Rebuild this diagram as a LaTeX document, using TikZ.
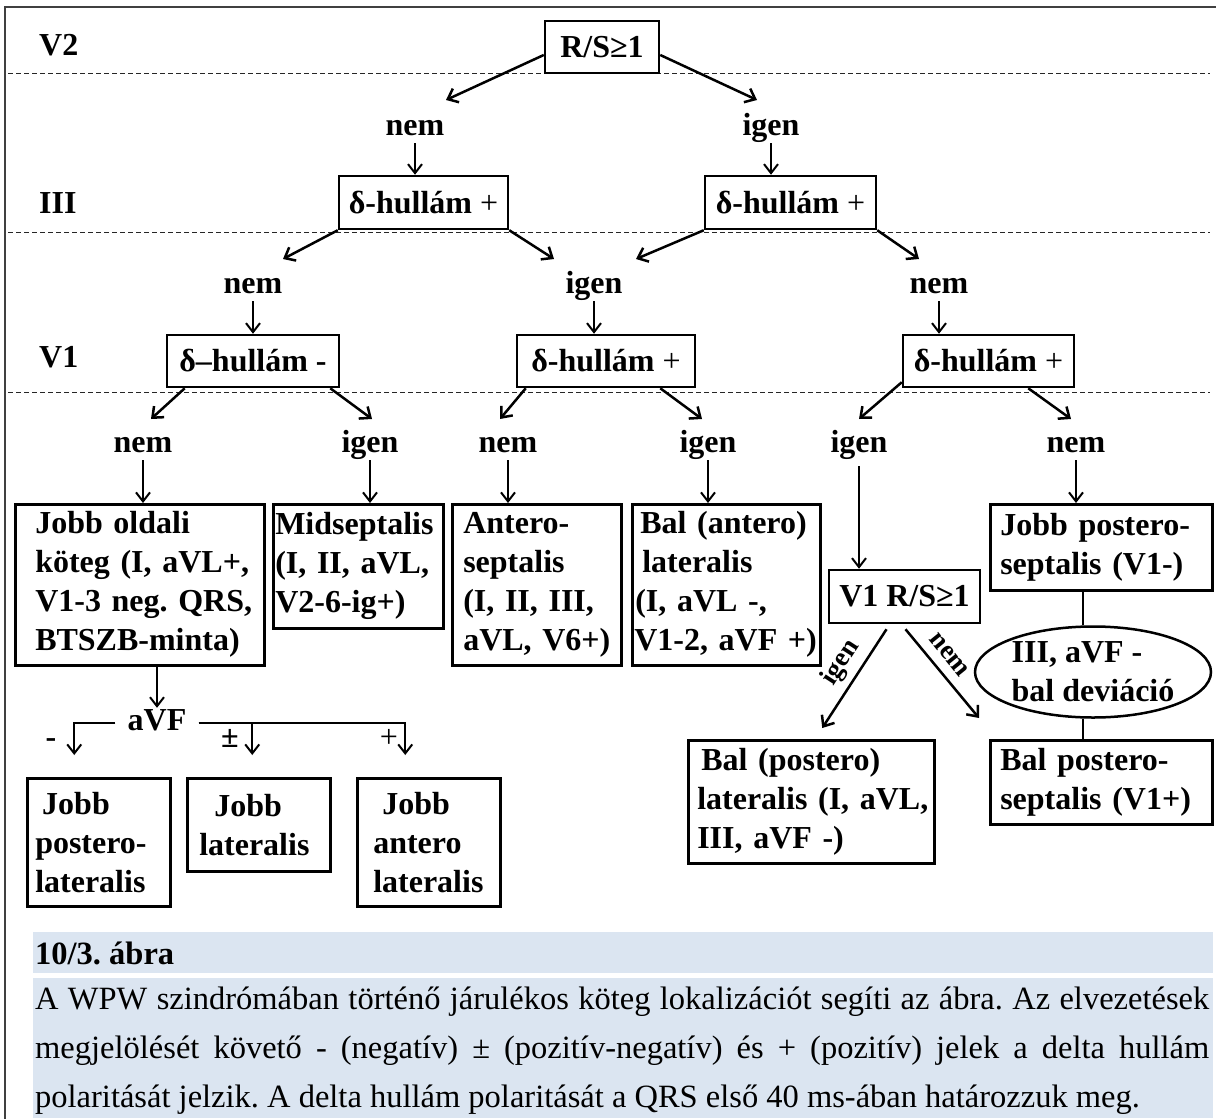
\documentclass[tikz,border=0pt]{standalone}
\usepackage{fontspec}
\setmainfont{Liberation Serif}
\usetikzlibrary{arrows.meta}
\usetikzlibrary{shapes.geometric}
\frenchspacing
\definecolor{capfill}{HTML}{DBE5F1}
\newcommand\dgfont{\fontsize{32}{39}\selectfont\bfseries}
\newcommand\smfont{\fontsize{27}{30}\selectfont\bfseries}
\newcommand\txfont{\fontsize{32.5}{49}\selectfont}
\tikzset{arr/.style = {line width=2.5pt, -{Straight Barb[length=9pt,width=15pt]}}}
\tikzset{varr/.style = {line width=2pt, -{Straight Barb[length=9pt,width=14pt]}}}
\tikzset{sep/.style = {line width=1pt, dash pattern=on 5pt off 3pt, black!85}}
\tikzset{lead/.style = {font=\dgfont, anchor=west, inner sep=0}}
\tikzset{ans/.style = {font=\dgfont, inner sep=0, text height=22pt, text depth=8pt}}
\tikzset{cond/.style = {draw, line width=2.5pt, font=\dgfont, inner sep=0}}
\tikzset{loc/.style = {draw, line width=2.5pt, font=\dgfont, align=left,
                       anchor=north west, inner xsep=2pt, inner ysep=0}}

\begin{document}
\begin{tikzpicture}[x=1pt, y=-1pt]
  \useasboundingbox (0,0) rectangle (1216,1119);
  \draw [line width=2pt, black!75] (5,1119) -- (5,7) -- (1216,7);

  % leads
  \draw [sep] (8,73) -- (1210,73);
  \draw [sep] (8,232) -- (1210,232);
  \draw [sep] (8,392) -- (1210,392);
  \node [lead] (lv2) at (39,45) {V2};
  \node [lead] (liii) at (39,203) {III};
  \node [lead] (lv1) at (39,357) {V1};

  % delta wave tests
  \node [cond, minimum width=114pt, minimum height=52pt] (rs) at (602,47) {R/S≥1};
  \node [cond, minimum width=169pt, minimum height=53pt] (d1) at (423.5,202.5) {δ-hullám {\mdseries +}};
  \node [cond, minimum width=171pt, minimum height=53pt] (d2) at (790.5,202.5) {δ-hullám {\mdseries +}};
  \node [cond, minimum width=172pt, minimum height=52pt] (e1) at (253,361) {δ–hullám -};
  \node [cond, minimum width=178pt, minimum height=52pt] (e2) at (606,361) {δ-hullám {\mdseries +}};
  \node [cond, minimum width=171pt, minimum height=52pt] (e3) at (988.5,361) {δ-hullám {\mdseries +}};
  \node [cond, minimum width=151pt, minimum height=53pt] (v1rs) at (904.5,596.5) {V1 R/S≥1};

  \node [ans] (n1) at (415,128) {nem};
  \node [ans] (i1) at (771,128) {igen};
  \node [ans] (n2) at (253,286) {nem};
  \node [ans] (i2) at (594,286) {igen};
  \node [ans] (n3) at (939,286) {nem};
  \node [ans] (n4) at (143,445) {nem};
  \node [ans] (i3) at (370,445) {igen};
  \node [ans] (n5) at (508,445) {nem};
  \node [ans] (i4) at (708,445) {igen};
  \node [ans] (i5) at (859,445) {igen};
  \node [ans] (n6) at (1076,445) {nem};

  % locations
  \node [loc, text width=245pt, minimum height=161pt] (j1) at (14,503)
    {\hspace*{18pt}Jobb oldali\\\hspace*{18pt}köteg (I, aVL+,\\\hspace*{18pt}V1-3 neg. QRS,\\\hspace*{18pt}BTSZB-minta)};
  \node [loc, text width=166pt, minimum height=124pt] (mid) at (272,503)
    {Midseptalis\\(I, II, aVL,\\V2-6-ig+)};
  \node [loc, text width=165pt, minimum height=161pt] (ant) at (451,503)
    {\hspace*{9pt}Antero-\\\hspace*{9pt}septalis\\\hspace*{9pt}(I, II, III,\\\hspace*{9pt}aVL, V6+)};
  \node [loc, text width=184pt, minimum height=161pt] (bal) at (631,503)
    {\hspace*{6pt}Bal (antero)\\\hspace*{8pt}lateralis\\\hspace*{1pt}(I, aVL -,\\V1-2, aVF +)};
  \node [loc, text width=218pt, minimum height=86pt] (jps) at (989,503)
    {\hspace*{8pt}Jobb postero-\\\hspace*{8pt}septalis (V1-)};
  \node [draw, ellipse, line width=2.5pt, font=\dgfont, align=left, inner sep=0,
         minimum width=236pt, minimum height=91pt] (ell) at (1093,672)
    {III, aVF -\\bal deviáció};
  \node [loc, text width=218pt, minimum height=84pt] (bps) at (989,739)
    {\hspace*{8pt}Bal postero-\\\hspace*{8pt}septalis (V1+)};
  \node [loc, text width=242pt, minimum height=123pt] (bpl) at (687,739)
    {\hspace*{11pt}Bal (postero)\\\hspace*{7pt}lateralis (I, aVL,\\\hspace*{7pt}III, aVF -)};
  \node [loc, text width=139pt, minimum height=128pt] (jpl) at (26,777)
    {\hspace*{13pt}Jobb\\\hspace*{6pt}postero-\\\hspace*{6pt}lateralis};
  \node [loc, text width=139pt, minimum height=93pt] (jl) at (186,777)
    {\hspace*{25pt}Jobb\\\hspace*{10pt}lateralis};
  \node [loc, text width=139pt, minimum height=128pt] (jal) at (356,777)
    {\hspace*{23pt}Jobb\\\hspace*{14pt}antero\\\hspace*{14pt}lateralis};

  % branches
  \draw [arr] ([yshift=-8pt]rs.west) -- ([shift={(31,-28)}]n1.center);
  \draw [arr] ([yshift=-8pt]rs.east) -- ([shift={(-14,-28)}]i1.center);
  \draw [arr] (d1.south west) -- ([shift={(30,-27)}]n2.center);
  \draw [arr] (d1.south east) -- ([shift={(-40,-27)}]i2.center);
  \draw [arr] (d2.south west) -- ([shift={(42,-27)}]i2.center);
  \draw [arr] (d2.south east) -- ([shift={(-20,-27)}]n3.center);
  \draw [arr] ([xshift=19pt]e1.south west) -- ([shift={(8,-26)}]n4.center);
  \draw [arr] ([xshift=-10pt]e1.south east) -- ([shift={(2,-26)}]i3.center);
  \draw [arr] ([xshift=10pt]e2.south west) -- ([shift={(-8,-26)}]n5.center);
  \draw [arr] ([xshift=-36pt]e2.south east) -- ([shift={(-6,-26)}]i4.center);
  \draw [arr] ([yshift=6pt]e3.south west) -- ([shift={(0,-26)}]i5.center);
  \draw [arr] ([xshift=-47pt]e3.south east) -- ([shift={(-5,-26)}]n6.center);

  \draw [varr] (n1.south) -- (n1.south |- d1.north);
  \draw [varr] (i1.south) -- (i1.south |- d2.north);
  \draw [varr] (n2.south) -- (n2.south |- e1.north);
  \draw [varr] (i2.south) -- (i2.south |- e2.north);
  \draw [varr] (n3.south) -- (n3.south |- e3.north);
  \draw [varr] (n4.south) -- (n4.south |- j1.north);
  \draw [varr] (i3.south) -- (i3.south |- mid.north);
  \draw [varr] (n5.south) -- (n5.south |- ant.north);
  \draw [varr] (i4.south) -- (i4.south |- bal.north);
  \draw [varr] ([yshift=-6pt]i5.south) -- (i5.south |- v1rs.north);
  \draw [varr] (n6.south) -- (n6.south |- jps.north);

  % V1 R/S
  \draw [arr] ([xshift=-18pt,yshift=-5pt]v1rs.south) -- ([shift={(11,-11)}]bpl.north);
  \draw [arr] ([xshift=1pt,yshift=-5pt]v1rs.south) -- ([shift={(-10,-21)}]bps.north west);
  \node [font=\smfont, inner sep=0, rotate=57] (ig) at (841,663) {igen};
  \node [font=\smfont, inner sep=0, rotate=-51] (nm) at (949,655) {nem};
  \draw [line width=2.5pt] (ell.102) -- (ell.102 |- jps.south);
  \draw [line width=2.5pt] (ell.258) -- (ell.258 |- bps.north);

  % aVF
  \node [ans, inner xsep=12pt] (av) at (157,723) {aVF};
  \draw [varr] (av.north |- j1.south) -- (av.north);
  \draw [varr] (av.west) -| ([xshift=-24.5pt,yshift=22pt]jpl.north);
  \draw [varr] (av.east) -| ([xshift=-6.5pt,yshift=22pt]jl.north);
  \draw [varr] (av.east) -| ([xshift=-23.5pt,yshift=22pt]jal.north);
  \node [ans] (sneg) at (51,740) {-};
  \node [ans] (spm) at (230,740) {±};
  \node [ans, font=\dgfont\mdseries] (spos) at (389,740) {+};

  % caption
  \fill [capfill] (33,932) rectangle (1213,973);
  \fill [capfill] (33,978) rectangle (1213,1118);
  \node [anchor=west, inner sep=0, font=\txfont\bfseries] (ttl) at (35,953) {10/3. ábra};
  \node [anchor=north west, inner sep=0, text width=1174pt, align=justify, font=\txfont] (txt) at (35,987)
    {A WPW szindrómában történő járulékos köteg lokalizációt segíti az ábra. Az elvezetések\linebreak
     megjelölését követő - (negatív) ± (pozitív-negatív) és + (pozitív) jelek a delta hullám\linebreak
     polaritását jelzik. A delta hullám polaritását a QRS első 40 ms-ában határozzuk meg.};
\end{tikzpicture}
\end{document}
